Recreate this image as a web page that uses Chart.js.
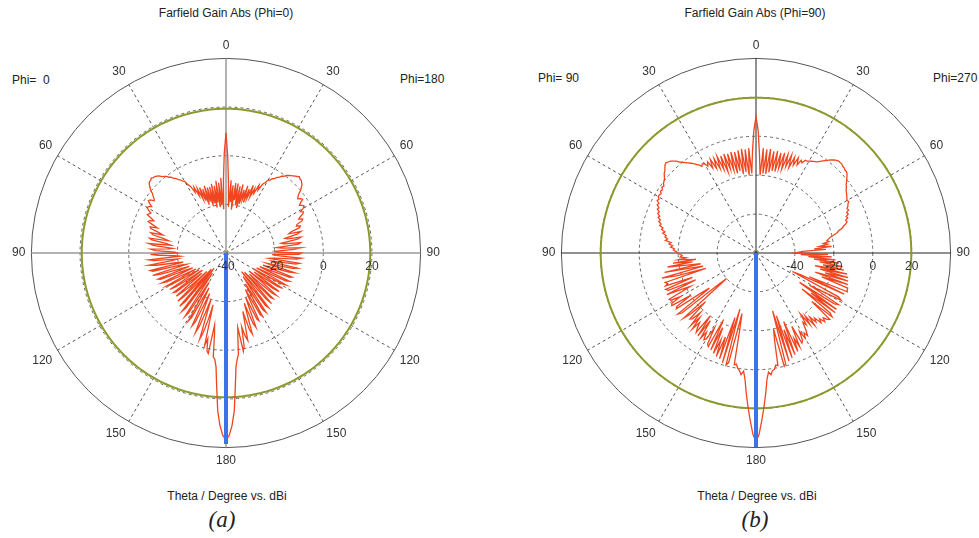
<!DOCTYPE html>
<html>
<head>
<meta charset="utf-8">
<script src="https://cdn.jsdelivr.net/npm/chart.js@4.4.1/dist/chart.umd.min.js"></script>
<style>
  body { margin: 0; background: #fff; width: 979px; height: 538px; position: relative; overflow: hidden;
         font-family: "Liberation Sans", Arial, sans-serif; color: #222; }
  .box { position: absolute; top: 23px; width: 460px; height: 460px; }
  .t { position: absolute; font-size: 12px; white-space: nowrap; transform: translate(-50%, -50%); }
  .l { position: absolute; font-size: 12px; white-space: nowrap; transform: translateY(-50%); }
  .cap { position: absolute; font: italic 23px "Liberation Serif", "Times New Roman", serif; transform: translate(-50%, -50%); }
</style>
</head>
<body>

<div class="t" style="left:226px;top:13px">Farfield Gain Abs (Phi=0)</div>
<div class="l" style="left:12px;top:80px">Phi=&nbsp;&nbsp;0</div>
<div class="l" style="left:400px;top:79px">Phi=180</div>
<div class="box" style="left:-4px"><canvas id="chartA" width="460" height="460"></canvas></div>
<div class="t" style="left:227px;top:496px">Theta / Degree vs. dBi</div>
<div class="cap" style="left:222px;top:520px">(a)</div>

<div class="t" style="left:755px;top:13px">Farfield Gain Abs (Phi=90)</div>
<div class="l" style="left:538px;top:78px">Phi=&nbsp;90</div>
<div class="l" style="left:933px;top:78px">Phi=270</div>
<div class="box" style="left:526px"><canvas id="chartB" width="460" height="460"></canvas></div>
<div class="t" style="left:757px;top:496px">Theta / Degree vs. dBi</div>
<div class="cap" style="left:755px;top:520px">(b)</div>

<script>
// theta 0..180 step 1 deg (10 per row), gain in dBi

// (a) cut Phi=0 (left half) and Phi=180 (right half)
const gainPhi0 = [
  9.5, 1, -10, -22, -9, -20, -11, -21, -10, -19,
  -12, -21, -11, -19, -12, -20, -12, -18, -11, -19,
  -12, -17, -11, -16, -11, -14, -10, -12, -9, -8,
  -6, -5.5, -4.5, -4, -3, -2.5, -1.5, -1, 0, 0.5,
  1, 2, 2.5, 3, 3, 3.5, 3, 3, 2.5, 1.5,
  0.5, -1, -2, -3, -3.5, -2, -1.5, -2.5, -4, -3,
  -2.5, -3.5, -5, -4.5, -4, -6, -7.5, -6, -5.5, -8,
  -10, -7, -7.5, -11, -13, -8, -9, -14, -16, -8,
  -9, -15, -17, -8, -10, -18, -16, -9, -11, -19,
  -20, -9, -12, -19, -21, -8, -10, -20, -18, -8,
  -11, -19, -22, -8, -9, -21, -23, -8.5, -12, -20,
  -24, -10, -11, -22, -25, -11, -13, -21, -26, -12,
  -14, -24, -27, -12.5, -15, -22, -28, -13, -14, -25,
  -27, -13, -16, -20, -29, -12, -15, -24, -31, -11,
  -14, -28, -32, -10, -12, -26, -30, -9, -11, -22,
  -26, -8, -10, -20, -24, -7, -9, -17, -22, -5,
  -8, -14, -20, -3, -6, -11, -18, -1, -4, 1,
  2, -10, -6, 3, 4, 7, 15, 25, 31, 35,
  37
];
const gainPhi180 = [
  9.5, 0, -11, -21, -10, -19, -12, -22, -11, -18,
  -11, -20, -12, -21, -11, -19, -13, -17, -11, -18,
  -12, -16, -10, -15, -11, -13, -9, -11, -8, -7,
  -5.5, -5, -4, -3.5, -2.5, -2, -1, -0.5, 0.5, 1,
  1.5, 2, 2.5, 3, 3.5, 3, 3, 2.5, 2, 1,
  0, -1.5, -2.5, -3, -2, -1.5, -3, -4, -3, -2.5,
  -3.5, -5, -4, -4.5, -6, -7, -5.5, -6, -8.5, -9,
  -7.5, -8, -12, -13, -8, -9.5, -15, -14, -8.5, -10,
  -17, -16, -9, -10, -19, -17, -9, -12, -20, -19,
  -9, -10, -21, -18, -9, -11, -20, -22, -9.5, -11,
  -21, -20, -10, -12, -23, -21, -10.5, -13, -24, -20,
  -11, -12, -25, -22, -11.5, -13, -26, -21, -12, -14,
  -27, -24, -12.5, -15, -26, -23, -13, -16, -28, -21,
  -13, -15, -27, -25, -13, -14, -29, -22, -12, -15,
  -30, -26, -11.5, -13, -28, -24, -10.5, -12, -25, -21,
  -10, -11, -23, -19, -9, -10, -20, -16, -7, -9,
  -18, -13, -5, -7, -15, -10, -3, -5, -9, -1,
  1, -9, -5, 2, 4, 7, 15, 25, 31, 35,
  37
];

// (b) cut Phi=90 (left half) and Phi=270 (right half)
const gainPhi90 = [
  10, 3, -8, -19, -6, -20, -6.5, -18, -6, -19,
  -6.5, -17, -7, -18, -6.5, -16, -7, -15, -6.5, -16,
  -7, -14, -6.5, -13, -7, -12, -6.5, -11, -7, -9,
  -7, -6.5, -7.5, -6, -5, -4, -3, -2, -1, 0,
  1, 2.5, 3.5, 4.5, 5, 5.5, 5, 4, 3, 2.5,
  1.5, 0.5, 0, -0.5, -1.5, -1, -2, -1.5, -2.5, -2,
  -2, -3, -2.5, -4, -3.5, -5, -4.5, -6, -5.5, -7,
  -6.5, -8, -7.5, -9, -8.5, -10.5, -10, -12, -11, -13,
  -12.5, -14, -13, -16, -15, -17, -16, -18, -17.5, -19,
  -20, -21, -22, -21, -24, -20, -29, -17, -27, -14,
  -24, -31, -12, -26, -32, -10, -18, -33, -11, -12,
  -10.5, -25, -10, -11, -26, -9.5, -17, -22, -9.5, -10,
  -15, -9.5, -9, -20, -11, -10, -24, -30, -9, -11,
  -35, -40, -10, -14, -24, -12, -13, -18, -10, -16,
  -9, -14, -11, -9, -20, -8, -18, -8, -12, -8,
  -9, -16, -7, -6, -22, -5, -18, -4, -12, -3,
  -14, -2.5, -25, -1, -30, -0.5, -2, -28, -20, -1.5,
  -2, 0, 1, 3, 1, 5, 12, 19, 26, 33,
  37
];
const gainPhi270 = [
  10, 3, -9, -20, -6, -19, -6.5, -19, -6, -18,
  -7, -17, -6.5, -17, -7, -15, -6.5, -15, -7, -13,
  -6.5, -13, -7, -11, -6.5, -10, -7, -8, -6, -6,
  -5.5, -5, -4.5, -4, -3.5, -2.5, -1.5, -0.5, 0.5, 1.5,
  2.5, 3, 3.5, 3.5, 3.5, 3, 3, 2.5, 2.5, 2,
  1, 0, -1, -2, -2.5, -3.5, -4, -4.5, -5, -5.5,
  -6, -5.5, -6.5, -7, -8, -7.5, -9, -8.5, -10, -9.5,
  -11, -10.5, -11.5, -13, -14, -16, -17, -19, -21, -22,
  -23, -22, -25, -23, -27, -21, -30, -24, -36, -38,
  -40, -23, -37, -21, -33, -19, -30, -17, -27, -15,
  -25, -14, -29, -12, -26, -11, -23, -10.5, -28, -10,
  -24, -9.5, -9.5, -9, -30, -10, -35, -39, -12, -10,
  -20, -28, -10, -12, -33, -9.5, -25, -9, -30, -11,
  -9, -22, -9, -10, -12, -10, -13, -11, -15, -13,
  -17, -12, -19, -14, -21, -15, -17, -13, -10, -12,
  -9.5, -14, -9, -8, -18, -7, -12, -5, -22, -4,
  -18, -3, -26, -2, -29, -1, 0, -20, -14, -1,
  -1.5, 0.5, 1, 3, 1.5, 5, 12, 19, 26, 33,
  37
];

// isotropic reference circle and beam marker (dBi)
const isoA = 19.3, isoB = 19.8;
const beamA = 38.5, beamB = 40;

// radial axis
const dbTicks = [-40, -20, 0, 20];
const rangeA = [-40, 40], rangeB = [-60, 40];

// angular categories: 0..359 deg clockwise from top, theta labels every 30 deg
const angles = Array.from({ length: 360 }, (_, i) => i);
const angleLabels = angles.map(a => (a % 30 ? '' : String(a <= 180 ? a : 360 - a)));

// right half runs theta 0..180, left half comes back 179..1
function ring(right, left) {
  return right.concat(left.slice(1, 180).reverse());
}

const dbLabels = {
  id: 'dbLabels',
  afterDatasetsDraw(chart) {
    const s = chart.scales.r;
    const ctx = chart.ctx;
    ctx.save();
    ctx.font = '12px "Liberation Sans", Arial, sans-serif';
    ctx.fillStyle = '#333';
    ctx.textAlign = 'center';
    ctx.textBaseline = 'middle';
    dbTicks.forEach(v => {
      ctx.fillText(String(v), s.xCenter + s.getDistanceFromCenterForValue(v), s.yCenter + 14);
    });
    ctx.restore();
  }
};

function polar(id, gain, iso, beam, range, axisColor, axisWidth) {
  const [min, max] = range;
  new Chart(document.getElementById(id), {
    type: 'radar',
    data: {
      labels: angleLabels,
      datasets: [
        { data: angles.map(a => (a === 180 ? beam : min)), borderColor: '#3b74e8', borderWidth: 4 },
        { data: gain, borderColor: '#f0451f', borderWidth: 1.3 },
        { data: angles.map(() => iso), borderColor: '#8c9a2c', borderWidth: 2 }
      ]
    },
    options: {
      responsive: false,
      animation: false,
      devicePixelRatio: 1,
      layout: { padding: 15 },
      elements: {
        point: { radius: 0, hitRadius: 0 },
        line: { tension: 0, fill: false, backgroundColor: 'transparent' }
      },
      plugins: { legend: { display: false }, tooltip: { enabled: false } },
      scales: {
        r: {
          min: min,
          max: max,
          ticks: { stepSize: 20, display: false },
          grid: {
            circular: true,
            color: c => (c.tick && c.tick.value === max ? '#555' : '#666'),
            lineWidth: 1
          },
          border: { dash: c => (c.tick && c.tick.value === max ? [] : [3, 3]) },
          angleLines: {
            color: c => (c.index % 90 === 0 ? axisColor : (c.index % 30 === 0 ? '#555' : 'rgba(0,0,0,0)')),
            lineWidth: c => (c.index % 90 === 0 ? axisWidth : (c.index % 30 === 0 ? 1 : 0)),
            borderDash: c => (c.index % 90 === 0 ? [] : [3, 3])
          },
          pointLabels: {
            color: '#333',
            padding: 6,
            font: { size: 12, family: '"Liberation Sans", Arial, sans-serif' }
          }
        }
      }
    },
    plugins: [dbLabels]
  });
}

polar('chartA', ring(gainPhi180, gainPhi0), isoA, beamA, rangeA, '#999', 1.5);
polar('chartB', ring(gainPhi270, gainPhi90), isoB, beamB, rangeB, '#222', 1);
</script>
</body>
</html>
